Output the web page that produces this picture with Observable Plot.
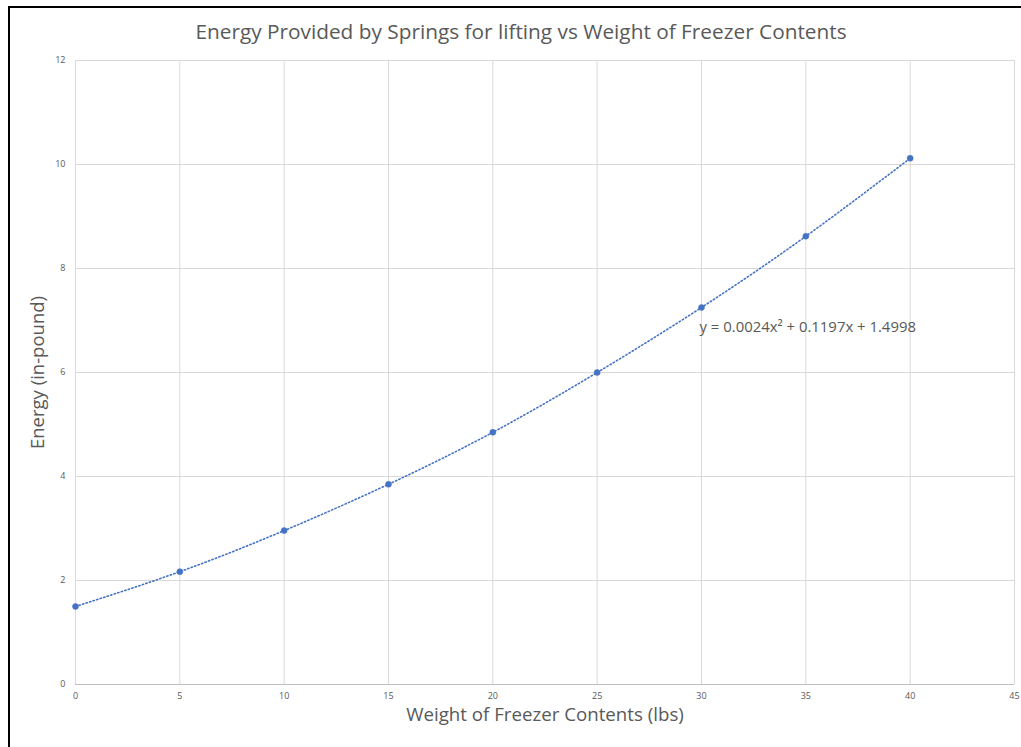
<!DOCTYPE html>
<html>
<head>
<meta charset="utf-8">
<script src="https://cdn.jsdelivr.net/npm/d3@7"></script>
<script src="https://cdn.jsdelivr.net/npm/@observablehq/plot@0.6"></script>
<style>
  html, body { margin: 0; padding: 0; background: #fff; }
  #wrap { position: relative; width: 1021px; height: 747px; overflow: hidden; background: #fff; }
  #border { position: absolute; left: 8px; top: 6px; width: 1100px; height: 800px;
            border-top: 2px solid #000; border-left: 2px solid #000; }
  #title { position: absolute; left: 0; top: 17px; width: 1042px; text-align: center;
           font-family: "Open Sans", sans-serif; font-size: 20.8px; color: #595959; line-height: 28px; }
  #chart { position: absolute; left: 0; top: 0; }
</style>
</head>
<body>
<div id="wrap">
  <div id="border"></div>
  <div id="chart"></div>
  <div id="title"></div>
</div>
<script>
const titleText = "Energy Provided by Springs for lifting vs Weight of Freezer Contents";
const xLabel = "Weight of Freezer Contents (lbs)";
const yLabel = "Energy (in-pound)";
const equation = "y = 0.0024x² + 0.1197x + 1.4998";

const weights = [0, 5, 10, 15, 20, 25, 30, 35, 40];
const energies = [1.50, 2.17, 2.96, 3.85, 4.85, 6.00, 7.25, 8.62, 10.12];

const xTicks = [0, 5, 10, 15, 20, 25, 30, 35, 40, 45];
const yTicks = [0, 2, 4, 6, 8, 10, 12];

const data = weights.map((w, i) => ({w, e: energies[i]}));
const eqRow = [{w: weights[6], e: energies[6], label: equation}];

document.getElementById("title").textContent = titleText;

const blue = "#4472C4";
const grey = "#595959";
const gridC = "#d9d9d9";

const chart = Plot.plot({
  width: 1021,
  height: 747,
  marginLeft: 75,
  marginRight: 7,
  marginTop: 60,
  marginBottom: 63,
  style: {fontFamily: "Open Sans, sans-serif", background: "transparent"},
  x: {domain: [0, 45], ticks: xTicks, label: null},
  y: {domain: [0, 12], ticks: yTicks, label: null},
  marks: [
    Plot.gridX(xTicks, {stroke: gridC, strokeOpacity: 1, strokeWidth: 1}),
    Plot.gridY(yTicks, {stroke: gridC, strokeOpacity: 1, strokeWidth: 1}),
    Plot.ruleY([0], {stroke: "#bfbfbf", strokeWidth: 1}),
    Plot.axisX(xTicks, {tickSize: 0, tickPadding: 8, fontSize: 9, fill: grey, tickFormat: d => String(d)}),
    Plot.axisY(yTicks, {tickSize: 0, tickPadding: 10, fontSize: 9, fill: grey, tickFormat: d => String(d)}),
    Plot.line(data, {x: "w", y: "e", curve: "natural", stroke: blue, strokeWidth: 1.6, strokeDasharray: "1.3,2.4"}),
    Plot.dot(data, {x: "w", y: "e", r: 3, fill: blue, stroke: blue, strokeWidth: 0.5}),
    Plot.text(eqRow, {x: "w", y: "e", text: "label", textAnchor: "start", dx: -2, dy: 20, fontSize: 14.9, fill: grey}),
    Plot.text([xLabel], {frameAnchor: "bottom", textAnchor: "middle", dy: 36, fontSize: 18.7, fill: grey}),
    Plot.text([yLabel], {frameAnchor: "left", textAnchor: "middle", dx: -37, rotate: -90, fontSize: 18.5, fill: grey})
  ]
});
document.getElementById("chart").appendChild(chart);
</script>
</body>
</html>
